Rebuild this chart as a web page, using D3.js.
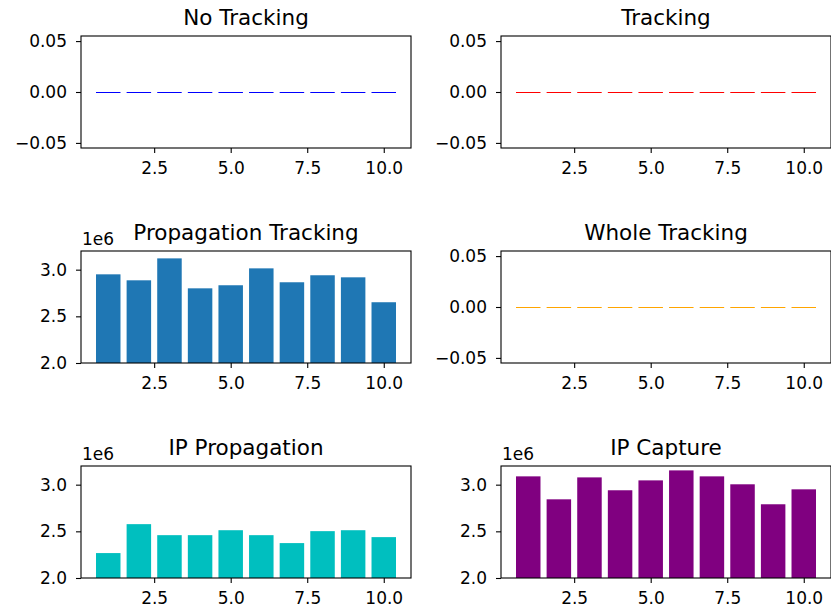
<!DOCTYPE html>
<html><head><meta charset="utf-8">
<script src="https://cdn.jsdelivr.net/npm/d3@7"></script>
<style>body{margin:0;background:#fff}svg{display:block}text{font-family:"DejaVu Sans",sans-serif;fill:#000}</style>
</head><body>
<svg id="c" width="831" height="615"></svg>
<script>
const runs = [1,2,3,4,5,6,7,8,9,10];
const noTracking = [0,0,0,0,0,0,0,0,0,0];
const tracking = [0,0,0,0,0,0,0,0,0,0];
const propagationTracking = [2.950e6,2.886e6,3.121e6,2.800e6,2.833e6,3.014e6,2.865e6,2.940e6,2.918e6,2.651e6];
const wholeTracking = [0,0,0,0,0,0,0,0,0,0];
const ipPropagation = [2.267e6,2.577e6,2.459e6,2.459e6,2.512e6,2.459e6,2.374e6,2.502e6,2.512e6,2.438e6];
const ipCapture = [3.089e6,2.843e6,3.078e6,2.940e6,3.046e6,3.153e6,3.089e6,3.004e6,2.790e6,2.950e6];
const titles = ["No Tracking","Tracking","Propagation Tracking","Whole Tracking","IP Propagation","IP Capture"];
const colors = ["#0000ff","#ff0000","#1f77b4","#ffa500","#00bfbf","#800080"];
const xTicks = [2.5,5.0,7.5,10.0];
const zeroTicks = [-0.05,0,0.05];
const bigTicks = [2.0e6,2.5e6,3.0e6];

const series = [noTracking,tracking,propagationTracking,wholeTracking,ipPropagation,ipCapture];
const svg = d3.select("#c");
const colX = [81,501], rowY = [36,251,466], W = 330, H = 112;
const fs = 17;

series.forEach((vals,k)=>{
  const px = colX[k%2], py = rowY[Math.floor(k/2)];
  const g = svg.append("g").attr("transform",`translate(${px},${py})`);
  const isZero = vals.every(v=>v===0);
  const x = d3.scaleLinear().domain([0.11,10.89]).range([0,W]);
  const y = isZero ? d3.scaleLinear().domain([-0.055,0.055]).range([H,0])
                   : d3.scaleLinear().domain([2.0e6,3.2e6]).range([H,0]);
  const cid = "clip"+k;
  g.append("clipPath").attr("id",cid).append("rect").attr("width",W).attr("height",H);
  const pg = g.append("g").attr("clip-path",`url(#${cid})`);
  if(isZero){
    pg.selectAll("line").data(vals).join("line")
      .attr("x1",(d,i)=>x(runs[i]-0.4)).attr("x2",(d,i)=>x(runs[i]+0.4))
      .attr("y1",d=>y(d)+0.5).attr("y2",d=>y(d)+0.5)
      .attr("stroke",colors[k]).attr("stroke-width",1);
  } else {
    pg.selectAll("rect").data(vals).join("rect")
      .attr("x",(d,i)=>x(runs[i]-0.4)).attr("width",(d,i)=>x(runs[i]+0.4)-x(runs[i]-0.4))
      .attr("y",d=>y(d)).attr("height",d=>H+2-y(d))
      .attr("fill",colors[k]);
  }
  const xa = d3.axisBottom(x).tickValues(xTicks).tickFormat(d3.format(".1f")).tickSize(5).tickPadding(9);
  const ya = isZero
    ? d3.axisLeft(y).tickValues(zeroTicks).tickFormat(d=>d3.format(".2f")(d).replace("-","\u2212")).tickSize(5).tickPadding(9)
    : d3.axisLeft(y).tickValues(bigTicks).tickFormat(d=>d3.format(".1f")(d/1e6)).tickSize(5).tickPadding(9);
  const gx = g.append("g").attr("transform",`translate(0,${H})`).call(xa);
  const gy = g.append("g").call(ya);
  [gx,gy].forEach(a=>{
    a.select(".domain").remove();
    a.selectAll("line").attr("stroke","#000").attr("stroke-width",1.1);
    a.selectAll("text").attr("font-size",fs).attr("font-family","DejaVu Sans").attr("fill","#000");
  });
  g.append("rect").attr("width",W).attr("height",H).attr("fill","none")
    .attr("stroke","#000").attr("stroke-width",1.1);
  g.append("text").attr("x",W/2).attr("y",-11).attr("text-anchor","middle")
    .attr("font-size",21.5).text(titles[k]);
  if(!isZero){
    g.append("text").attr("x",1).attr("y",-6).attr("font-size",fs).text("1e6");
  }
});
</script>
</body></html>
